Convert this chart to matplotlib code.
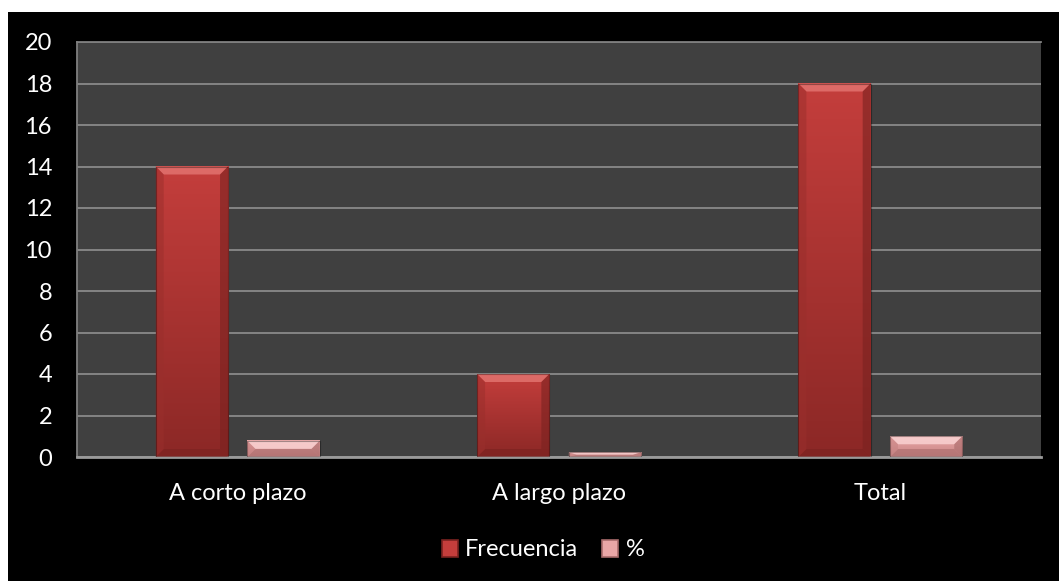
import numpy as np
import matplotlib
matplotlib.use("Agg")
import matplotlib.pyplot as plt
from matplotlib.patches import Rectangle, Polygon
from matplotlib.colors import to_rgb

categories = ["A corto plazo", "A largo plazo", "Total"]
frecuencia = [14, 4, 18]
porcentaje = [0.78, 0.22, 1.0]
y_ticks = [0, 2, 4, 6, 8, 10, 12, 14, 16, 18, 20]
series_names = ["Frecuencia", "%"]

W, H = 1059, 581
plt.rcParams['font.family'] = ['Lato', 'DejaVu Sans']
FS = 17

fig = plt.figure(figsize=(W / 100, H / 100), dpi=100, facecolor="white")
# black chart backdrop below the white strip
fig.patches.append(Rectangle((8 / W, 0), 1 - 8 / W, (H - 12) / H,
                             transform=fig.transFigure, facecolor="black",
                             edgecolor="none", zorder=-10))

ax = fig.add_axes([77 / W, (H - 457) / H, (1041 - 77) / W, (457 - 42) / H])
ax.set_facecolor("#404040")
ax.set_ylim(0, 20)
ax.set_xlim(-0.5, len(categories) - 0.5)
ax.set_yticks(y_ticks)
ax.set_xticks(range(len(categories)))
ax.set_xticklabels(categories)
ax.tick_params(axis="both", colors="white", labelsize=FS, length=0)
ax.tick_params(axis="y", pad=18)
ax.tick_params(axis="x", pad=19)
ax.yaxis.grid(True, color="#8a8a8a", linewidth=1.3)
ax.set_axisbelow(True)
for side, sp in ax.spines.items():
    sp.set_color("#7f7f7f")
    sp.set_linewidth(1.3)
ax.spines["right"].set_visible(False)
ax.spines["bottom"].set_color("#9a9a9a")
ax.spines["bottom"].set_linewidth(2)

width = 0.225
gap = 0.06
offsets = [-(width + gap) / 2, (width + gap) / 2]
palettes = [
    dict(top="#c43e3c", bottom="#8c2826", hi="#e0706c", lo="#7a2220", side="#9a2f2c"),
    dict(top="#e9a6a6", bottom="#c88686", hi="#f8cfcf", lo="#a86a6a", side="#c48080"),
]

px_x = 1.0 / 321.0   # data units per pixel, horizontal
px_y = 20.0 / 415.0  # data units per pixel, vertical


def bevel_bar(x0, w, h, pal):
    # gradient body
    c1, c2 = np.array(to_rgb(pal["top"])), np.array(to_rgb(pal["bottom"]))
    t = np.linspace(0, 1, 64)[:, None]
    grad = (c1 * (1 - t) + c2 * t)[:, None, :]
    ax.imshow(grad, extent=(x0, x0 + w, 0, h), aspect="auto",
              origin="upper", zorder=2, interpolation="bilinear")
    bx = 8 * px_x
    by = min(8 * px_y, h / 2)
    x1 = x0 + w
    # top bevel
    ax.add_patch(Polygon([(x0, h), (x1, h), (x1 - bx, h - by), (x0 + bx, h - by)],
                         closed=True, facecolor=pal["hi"], edgecolor="none",
                         alpha=0.9, zorder=3))
    # bottom bevel
    ax.add_patch(Polygon([(x0, 0), (x1, 0), (x1 - bx, by), (x0 + bx, by)],
                         closed=True, facecolor=pal["lo"], edgecolor="none",
                         alpha=0.6, zorder=3))
    # side bevels
    ax.add_patch(Polygon([(x0, 0), (x0, h), (x0 + bx, h - by), (x0 + bx, by)],
                         closed=True, facecolor=pal["side"], edgecolor="none",
                         alpha=0.5, zorder=3))
    ax.add_patch(Polygon([(x1, 0), (x1, h), (x1 - bx, h - by), (x1 - bx, by)],
                         closed=True, facecolor=pal["lo"], edgecolor="none",
                         alpha=0.6, zorder=3))
    ax.add_patch(Rectangle((x0, 0), w, h, facecolor="none",
                           edgecolor="#00000055", linewidth=0.8, zorder=4))


for si, values in enumerate([frecuencia, porcentaje]):
    for ci, v in enumerate(values):
        x0 = ci + offsets[si] - width / 2
        bevel_bar(x0, width, v, palettes[si])

ax.set_xlim(-0.5, len(categories) - 0.5)
ax.set_ylim(0, 20)

handles = [Rectangle((0, 0), 1, 1, facecolor=palettes[i]["top"],
                     edgecolor=palettes[i]["lo"], linewidth=1.2)
           for i in range(2)]
leg = fig.legend(handles, series_names, loc="center", bbox_to_anchor=(543 / W, 31 / H),
                 ncol=2, frameon=False, fontsize=FS, handlelength=0.7,
                 handleheight=0.7, handletextpad=0.3, columnspacing=1.0,
                 borderpad=0.2)
for t in leg.get_texts():
    t.set_color("white")

fig.savefig("out.png", dpi=100, facecolor=fig.get_facecolor())
